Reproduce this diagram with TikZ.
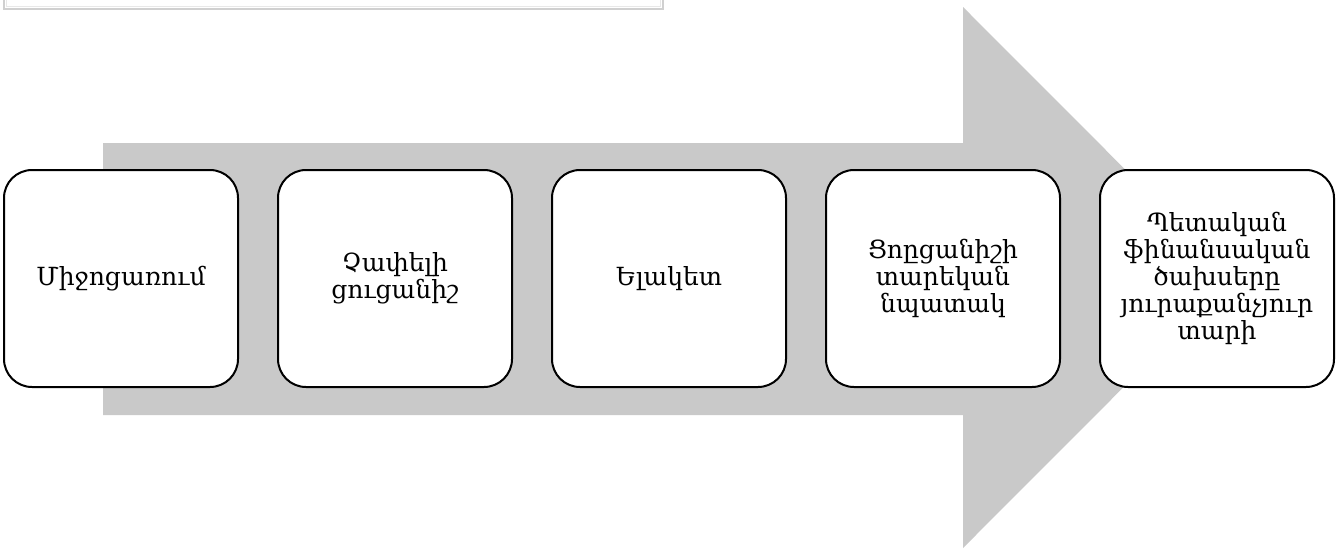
\documentclass[tikz,border=0pt]{standalone}
\usepackage{fontspec}
\setmainfont{DejaVu Serif}
\definecolor{arrowgray}{RGB}{201,201,201}
\definecolor{frameout}{RGB}{208,208,208}
\definecolor{framein}{RGB}{232,232,232}
\tikzset{
  stepbox/.style={draw=black, line width=2pt, fill=white, rounded corners=28pt,
    minimum width=234pt, minimum height=217pt, align=center, inner sep=4pt,
    font=\fontsize{25}{26.8}\selectfont},
}
\begin{document}
\begin{tikzpicture}[x=1pt,y=-1pt]
\useasboundingbox (0,0) rectangle (1340,549);
% partial frame at the top
\draw[frameout, line width=1.2pt] (4,-6) -- (4,9) -- (663,9) -- (663,-6);
\draw[framein, line width=1pt] (6.5,-6) -- (6.5,6.5) -- (660.5,6.5) -- (660.5,-6);
% big arrow
\fill[arrowgray] (103,143) -- (963,143) -- (963,7) -- (1233,277.5) -- (963,548) -- (963,415) -- (103,415) -- cycle;
% boxes
\node[stepbox] (b1) at (121,278.5) {Միջոցառում};
\node[stepbox] (b2) at (395,278.5) {Չափելի\\ցուցանիշ};
\node[stepbox] (b3) at (669,278.5) {Ելակետ};
\node[stepbox] (b4) at (943,278.5) {Ցոըցանիշի\\տարեկան\\նպատակ};
\node[stepbox] (b5) at (1217,278.5) {Պետական\\ֆինանսական\\ծախսերը\\յուրաքանչյուր\\տարի};
\end{tikzpicture}
\end{document}
